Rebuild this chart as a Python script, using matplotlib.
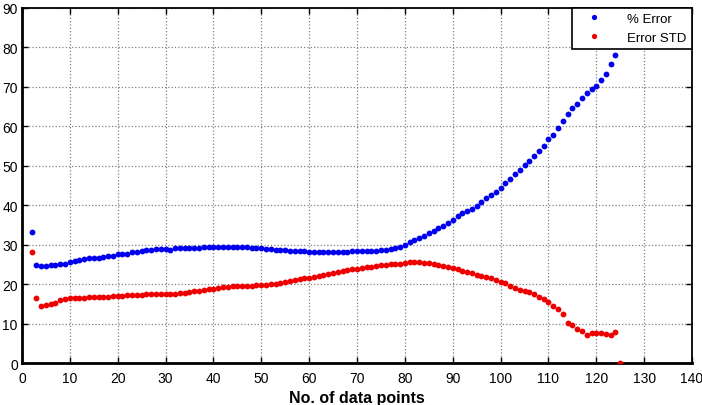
import matplotlib
matplotlib.use("Agg")
import matplotlib.pyplot as plt

plt.rcParams['font.family'] = ['Liberation Sans', 'DejaVu Sans']

n_points = list(range(2, 126))

pct_error = [33.2, 24.8, 24.5, 24.5, 24.7, 24.8, 25.1, 25.1, 25.5, 25.8,
             26.1, 26.3, 26.6, 26.7, 26.7, 26.9, 27.2, 27.2, 27.5, 27.7,
             27.7, 28.0, 28.0, 28.3, 28.5, 28.5, 28.8, 28.8, 28.8, 28.7,
             29.0, 29.0, 29.0, 29.0, 29.0, 29.0, 29.3, 29.3, 29.3, 29.3,
             29.3, 29.3, 29.3, 29.3, 29.3, 29.3, 29.2, 29.1, 29.0, 28.9,
             28.8, 28.7, 28.6, 28.5, 28.4, 28.4, 28.3, 28.3, 28.2, 28.1,
             28.1, 28.1, 28.1, 28.1, 28.1, 28.1, 28.2, 28.3, 28.3, 28.3,
             28.3, 28.4, 28.4, 28.6, 28.7, 28.8, 29.1, 29.4, 29.9, 30.6,
             31.1, 31.6, 32.2, 32.8, 33.5, 34.1, 34.8, 35.4, 36.3, 37.1,
             37.9, 38.6, 39.1, 39.8, 40.7, 41.7, 42.6, 43.4, 44.4, 45.5,
             46.5, 47.9, 48.9, 50.1, 51.1, 52.3, 53.7, 55.0, 56.6, 57.8,
             59.5, 61.3, 63.1, 64.5, 65.7, 67.1, 68.3, 69.4, 70.1, 71.7,
             73.2, 75.7, 78.1, 81.0]

error_std = [28.2, 16.4, 14.5, 14.7, 15.0, 15.3, 15.9, 16.2, 16.4, 16.4,
             16.4, 16.4, 16.6, 16.6, 16.6, 16.6, 16.7, 16.9, 16.9, 16.9,
             17.1, 17.1, 17.1, 17.2, 17.4, 17.4, 17.4, 17.4, 17.4, 17.5,
             17.5, 17.7, 17.8, 18.0, 18.2, 18.3, 18.5, 18.7, 18.7, 19.0,
             19.2, 19.3, 19.4, 19.5, 19.5, 19.6, 19.6, 19.7, 19.7, 19.8,
             19.9, 20.1, 20.3, 20.6, 20.8, 21.1, 21.3, 21.4, 21.6, 21.9,
             22.1, 22.4, 22.6, 22.8, 23.1, 23.2, 23.5, 23.7, 23.8, 24.0,
             24.2, 24.3, 24.6, 24.8, 24.9, 25.1, 25.1, 25.1, 25.2, 25.5,
             25.5, 25.5, 25.3, 25.2, 25.1, 24.8, 24.5, 24.2, 24.0, 23.7,
             23.4, 23.1, 22.9, 22.3, 22.0, 21.8, 21.5, 21.1, 20.6, 20.3,
             19.6, 19.0, 18.5, 18.3, 18.0, 17.5, 16.8, 16.3, 15.5, 14.4,
             13.6, 12.3, 10.2, 9.7, 8.7, 8.1, 7.2, 7.6, 7.6, 7.6,
             7.3, 7.0, 7.8, 0.1]

x_ticks = list(range(0, 141, 10))
y_ticks = list(range(0, 91, 10))

fig = plt.figure(figsize=(7.02, 4.06), dpi=100)
ax = fig.add_axes([0.0313, 0.1034, 0.9545, 0.8756])

ax.plot(n_points, pct_error, 'o', color='#0000ee', ms=4.2, mec='none', label='% Error', zorder=3)
ax.plot(n_points, error_std, 'o', color='#ee0000', ms=4.2, mec='none', label='Error STD', zorder=3)

ax.set_xlim(0, 140)
ax.set_ylim(0, 90)
ax.set_xticks(x_ticks)
ax.set_yticks(y_ticks)
ax.tick_params(direction='in', length=4, width=1, top=True, right=True,
               labelsize=10)
ax.tick_params(axis='x', pad=6)
ax.tick_params(axis='y', pad=3)
ax.grid(True, color='0.5', linestyle=':', linewidth=0.9)
for s in ax.spines.values():
    s.set_linewidth(1.3)
ax.spines['left'].set_linewidth(2)
ax.spines['bottom'].set_linewidth(2)

ax.set_xlabel('No. of data points', fontsize=11.5, fontweight='bold', labelpad=3)

leg = ax.legend(loc='upper right', borderaxespad=0, fancybox=False,
                edgecolor='black', framealpha=1, fontsize=9.5,
                handletextpad=1.2, markerscale=0.9, handlelength=2.6)
leg.get_frame().set_linewidth(1.2)
leg.set_zorder(5)

fig.savefig('out.png', dpi=100)
